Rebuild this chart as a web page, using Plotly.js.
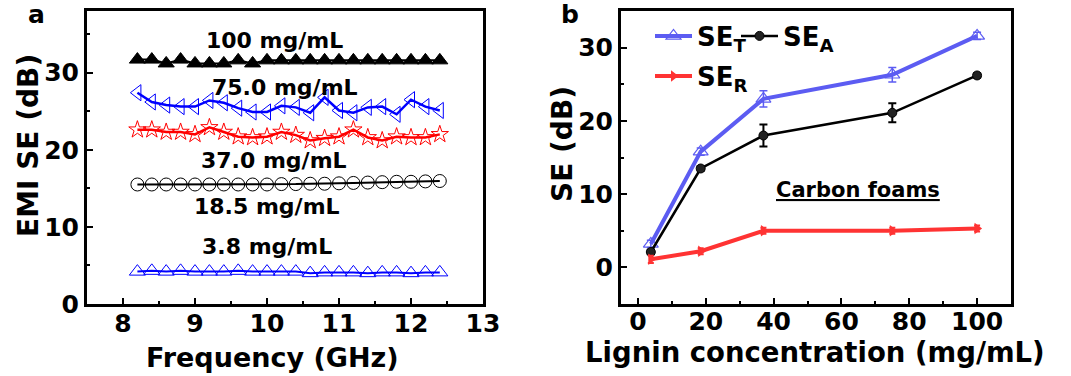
<!DOCTYPE html>
<html><head><meta charset="utf-8">
<script src="https://cdn.plot.ly/plotly-3.0.1.min.js"></script>
<style>html,body{margin:0;padding:0;background:#fff}</style>
</head><body>
<div id="chart" style="width:1071px;height:376px"></div>
<script>
// ---------- Panel a : EMI SE vs frequency ----------
const freq = [8.2, 8.4, 8.6, 8.8, 9.0, 9.2, 9.4, 9.6, 9.8, 10.0, 10.2, 10.4, 10.6, 10.8, 11.0, 11.2, 11.4, 11.6, 11.8, 12.0, 12.2, 12.4];
const se100 = [31.7, 31.7, 31.2, 31.7, 31.2, 31.2, 31.2, 31.6, 31.2, 31.6, 31.6, 31.6, 31.6, 31.6, 31.6, 31.6, 31.6, 31.6, 31.6, 31.6, 31.6, 31.6];
const se75 = [27.4, 26.2, 25.8, 25.6, 25.6, 26.4, 26.1, 25.4, 24.9, 24.9, 25.7, 25.5, 24.8, 26.8, 25.1, 24.8, 25.5, 25.6, 24.6, 26.5, 25.6, 25.1];
const se37 = [22.6, 22.6, 22.3, 22.3, 22.0, 22.9, 22.3, 21.7, 21.6, 21.7, 22.3, 21.9, 21.2, 21.5, 21.7, 22.6, 21.6, 21.2, 21.7, 21.6, 21.6, 22.0];
const se18 = [15.5, 15.5, 15.5, 15.5, 15.5, 15.5, 15.5, 15.5, 15.5, 15.5, 15.55, 15.55, 15.6, 15.6, 15.65, 15.7, 15.75, 15.8, 15.85, 15.85, 15.9, 15.95];
const se3 = [4.2, 4.3, 4.2, 4.3, 4.2, 4.2, 4.2, 4.3, 4.2, 4.2, 4.2, 4.2, 4.0, 4.1, 4.1, 4.1, 4.0, 4.1, 4.1, 4.0, 4.1, 4.1];
const seriesLabels = ["100 mg/mL", "75.0 mg/mL", "37.0 mg/mL", "18.5 mg/mL", "3.8 mg/mL"];
const labelX = [10.1, 10.25, 10.1, 10.0, 10.0];
const labelY = [34.2, 28.1, 18.55, 12.6, 7.5];

// ---------- Panel b : SE components vs lignin concentration ----------
const conc = [3.8, 18.5, 37, 75, 100];
const seT = [3.2, 15.8, 23.0, 26.3, 31.6];
const seTerr = [0.5, 0.5, 1.1, 1.0, 0.5];
const seA = [2.1, 13.5, 18.0, 21.1, 26.2];
const seAerr = [0.3, 0.3, 1.5, 1.3, 0.3];
const seR = [1.1, 2.2, 5.0, 5.0, 5.3];
const seRerr = [0.5, 0.4, 0.4, 0.4, 0.4];

const FONT = "DejaVu Sans, Liberation Sans, Arial, sans-serif";
const BLUE_B = "#5c5cf2";
const RED_B = "#ff3333";

function aTrace(y, color, symbol, size, mcolor, lw) {
  return {
    x: freq, y: y, xaxis: "x", yaxis: "y", mode: "lines+markers", showlegend: false,
    line: {color: color, width: lw},
    marker: {symbol: symbol, size: size, color: mcolor, line: {color: color, width: 1}},
    hoverinfo: "x+y"
  };
}

const traces = [
  aTrace(se100, "#000000", "triangle-up", 14, "#000000", 2),
  aTrace(se75, "#0000ff", "triangle-left-open", 14, "#0000ff", 2.5),
  aTrace(se37, "#ff0000", "star-open", 13, "#ff0000", 2.5),
  aTrace(se18, "#000000", "circle-open", 13, "#000000", 2),
  aTrace(se3, "#0000ff", "triangle-up-open", 14, "#0000ff", 2),
  {
    x: conc, y: seT, xaxis: "x2", yaxis: "y2", mode: "lines+markers", name: "SE<sub>T</sub>",
    legend: "legend",
    line: {color: BLUE_B, width: 4},
    marker: {symbol: "triangle-up-open", size: 13, color: BLUE_B, line: {color: BLUE_B, width: 1.2}},
    error_y: {type: "data", array: seTerr, visible: true, color: BLUE_B, thickness: 1.5, width: 4}
  },
  {
    x: conc, y: seA, xaxis: "x2", yaxis: "y2", mode: "lines+markers", name: "SE<sub>A</sub>",
    legend: "legend3",
    line: {color: "#000000", width: 2.5},
    marker: {symbol: "circle", size: 9, color: "#222222", line: {color: "#000000", width: 1}},
    error_y: {type: "data", array: seAerr, visible: true, color: "#000000", thickness: 2, width: 4}
  },
  {
    x: conc, y: seR, xaxis: "x2", yaxis: "y2", mode: "lines+markers", name: "SE<sub>R</sub>",
    legend: "legend2",
    line: {color: RED_B, width: 4},
    marker: {symbol: "triangle-right", size: 10, color: RED_B},
    error_y: {type: "data", array: seRerr, visible: true, color: RED_B, thickness: 2, width: 3}
  }
];

const tickFont = {family: FONT, size: 25, color: "#000", weight: "bold"};
function axis(extra) {
  return Object.assign({
    showline: true, linewidth: 3, linecolor: "#000", mirror: true,
    ticks: "inside", ticklen: 6, tickwidth: 2, tickcolor: "#000",
    showgrid: false, zeroline: false, tickfont: tickFont, fixedrange: true
  }, extra);
}

const annotations = [];
for (let i = 0; i < seriesLabels.length; i++) {
  annotations.push({
    text: seriesLabels[i], x: labelX[i], y: labelY[i], xref: "x", yref: "y",
    showarrow: false, xanchor: "center", yanchor: "middle",
    font: {family: FONT, size: 22, color: "#000", weight: "bold"}
  });
}
function paperText(text, x, y, size, angle) {
  annotations.push({
    text: text, x: x, y: y, xref: "paper", yref: "paper", showarrow: false,
    xanchor: "center", yanchor: "middle", textangle: angle || 0,
    font: {family: FONT, size: size, color: "#000", weight: "bold"}
  });
}
paperText("a", 36 / 1071, 1 - 15 / 376, 25);
paperText("b", 570 / 1071, 1 - 15 / 376, 25);
paperText("Frequency (GHz)", 272 / 1071, 1 - 357 / 376, 27);
paperText("EMI SE (dB)", 28 / 1071, 1 - 146 / 376, 28, -90);
paperText("Lignin concentration (mg/mL)", 815 / 1071, 1 - 352 / 376, 27.5);
paperText("SE (dB)", 562 / 1071, 1 - 144 / 376, 28, -90);
paperText("<u>Carbon foams</u>", 858 / 1071, 1 - 190 / 376, 21);

const legendFont = {family: FONT, size: 26, color: "#000", weight: "bold"};
function legendBox(xpx, ypx) {
  return {
    x: xpx / 1071, y: 1 - ypx / 376, xanchor: "left", yanchor: "middle", orientation: "h",
    bgcolor: "rgba(0,0,0,0)", font: legendFont, itemwidth: 37
  };
}
const layout = {
  width: 1071, height: 376,
  margin: {l: 0, r: 0, t: 0, b: 0},
  paper_bgcolor: "#fff", plot_bgcolor: "#fff",
  showlegend: true,
  xaxis: axis({domain: [87 / 1071, 483 / 1071], range: [7.5, 13], dtick: 1, tick0: 0, ticklabelstandoff: -5,
    minor: {dtick: 0.5, ticks: "inside", ticklen: 3, tickwidth: 2, tickcolor: "#000"}, anchor: "y"}),
  yaxis: axis({domain: [1 - 304 / 376, 1 - 11 / 376], range: [0, 38], dtick: 10, tick0: 0,
    minor: {dtick: 5, ticks: "inside", ticklen: 3, tickwidth: 2, tickcolor: "#000"}, anchor: "x"}),
  xaxis2: axis({domain: [621 / 1071, 1011 / 1071], range: [-5, 110], dtick: 20, tick0: 0, ticklabelstandoff: -7,
    minor: {dtick: 10, ticks: "inside", ticklen: 3, tickwidth: 2, tickcolor: "#000"}, anchor: "y2"}),
  yaxis2: axis({domain: [1 - 304 / 376, 1 - 11 / 376], range: [-5, 35], dtick: 10, tick0: 0,
    minor: {dtick: 5, ticks: "inside", ticklen: 3, tickwidth: 2, tickcolor: "#000"}, anchor: "x2"}),
  legend: legendBox(650, 36),
  legend3: legendBox(736, 36),
  legend2: legendBox(650, 76),
  annotations: annotations
};

Plotly.newPlot("chart", traces, layout, {displayModeBar: false, staticPlot: true});
</script>
</body></html>
